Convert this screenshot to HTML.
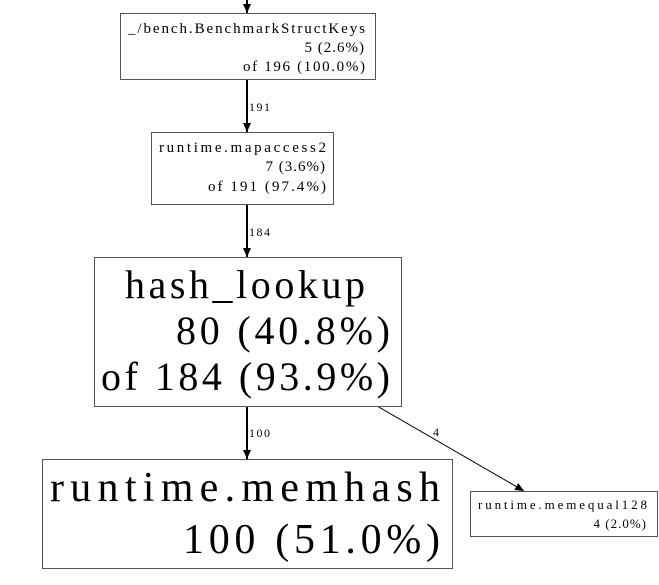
<!DOCTYPE html>
<html><head><meta charset="utf-8"><style>
html,body{margin:0;padding:0;background:#fff;}
svg{display:block;}
text{font-family:"Liberation Serif",serif;fill:#000;}
</style></head><body>
<svg width="659" height="585" viewBox="0 0 659 585" xmlns="http://www.w3.org/2000/svg">
<defs><marker id="a" markerWidth="10" markerHeight="10" refX="9" refY="5" orient="auto" markerUnits="userSpaceOnUse"><path d="M0,1 L9,5 L0,9 z" fill="#000"/></marker></defs>
<g stroke="#000" fill="none">
<line x1="247" y1="0" x2="247" y2="13" stroke-width="2" marker-end="url(#a)"/>
<line x1="247" y1="79" x2="247" y2="132" stroke-width="2" marker-end="url(#a)"/>
<line x1="247" y1="204" x2="247" y2="257" stroke-width="2" marker-end="url(#a)"/>
<line x1="247" y1="406" x2="247" y2="459" stroke-width="2" marker-end="url(#a)"/>
<line x1="377" y1="406" x2="524" y2="491" stroke-width="1" marker-end="url(#a)"/>
</g>
<g stroke="#555" fill="#fff" stroke-width="1">
<rect x="120.5" y="13.5" width="255" height="66"/>
<rect x="151.5" y="132.5" width="182" height="72"/>
<rect x="94.5" y="257.5" width="307" height="149"/>
<rect x="42.5" y="459.5" width="410" height="109"/>
<rect x="470.5" y="491.5" width="187" height="45"/>
</g>
<g font-size="15">
<text x="128" y="33" textLength="237" lengthAdjust="spacing">_/bench.BenchmarkStructKeys</text>
<text x="365" y="52" text-anchor="end" letter-spacing="1">5 (2.6%)</text>
<text x="243" y="71" textLength="122" lengthAdjust="spacing">of 196 (100.0%)</text>
<text x="159" y="152" textLength="167" lengthAdjust="spacing">runtime.mapaccess2</text>
<text x="326" y="171" text-anchor="end" letter-spacing="1">7 (3.6%)</text>
<text x="208" y="191" textLength="118" lengthAdjust="spacing">of 191 (97.4%)</text>
</g>
<g font-size="12">
<text x="249" y="111" letter-spacing="1.5">191</text>
<text x="249" y="236" letter-spacing="1.5">184</text>
<text x="249" y="437" letter-spacing="1.5">100</text>
<text x="433" y="436">4</text>
</g>
<g font-size="13">
<text x="478" y="509" textLength="169" lengthAdjust="spacing">runtime.memequal128</text>
<text x="647" y="528" text-anchor="end" letter-spacing="1">4 (2.0%)</text>
</g>
<g font-size="40">
<text x="125" y="298" textLength="240" lengthAdjust="spacing">hash_lookup</text>
<text x="176" y="344" textLength="214" lengthAdjust="spacing">80 (40.8%)</text>
<text x="101" y="390" textLength="289" lengthAdjust="spacing">of 184 (93.9%)</text>
</g>
<g font-size="42">
<text x="50" y="501" textLength="390" lengthAdjust="spacing">runtime.memhash</text>
<text x="183" y="553" textLength="257" lengthAdjust="spacing">100 (51.0%)</text>
</g>
</svg>
</body></html>
